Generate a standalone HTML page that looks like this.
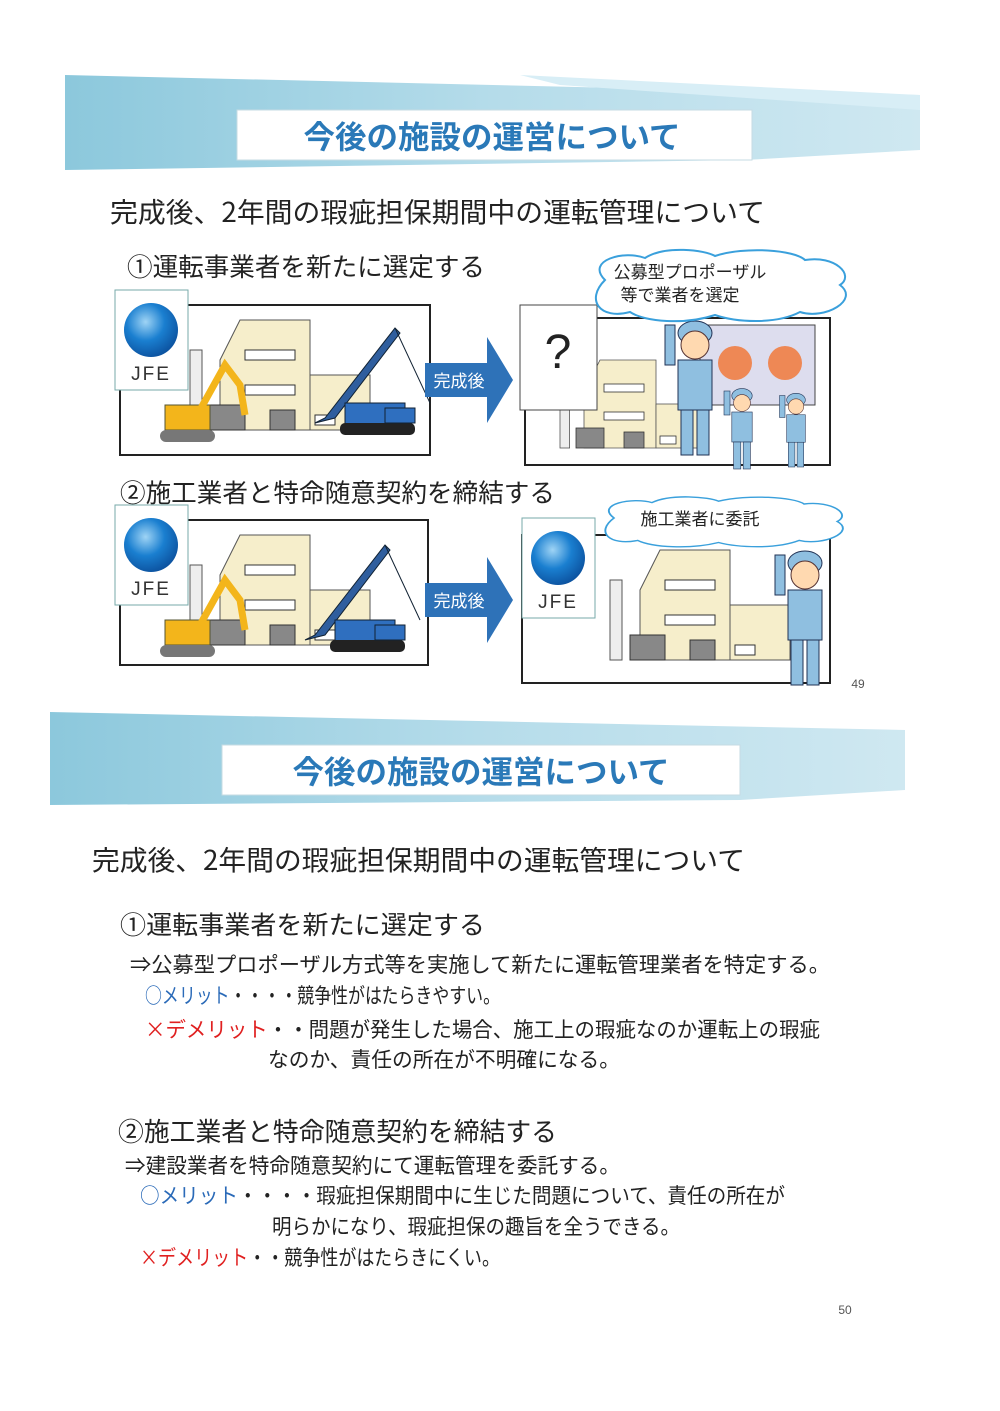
<!DOCTYPE html>
<html><head><meta charset="utf-8"><style>
html,body{margin:0;padding:0;background:#fff}
svg{display:block}
text{font-family:"Noto Sans CJK JP","Liberation Sans",sans-serif}
text.l{font-family:"Liberation Sans",sans-serif}
</style></head><body>
<svg width="1000" height="1411" viewBox="0 0 1000 1411" xmlns="http://www.w3.org/2000/svg">
<defs>
<linearGradient id="bn" x1="0" y1="0" x2="1" y2="0">
<stop offset="0" stop-color="#8cc8dc"/><stop offset="0.5" stop-color="#b5dcea"/><stop offset="1" stop-color="#cfe8f1"/></linearGradient>
<radialGradient id="ball" cx="0.4" cy="0.35" r="0.7"><stop offset="0" stop-color="#9fd4f5"/><stop offset="0.5" stop-color="#1a7fd0"/><stop offset="1" stop-color="#0b4f9c"/></radialGradient>
<g id="bld">
<rect x="0" y="30" width="12" height="80" fill="#eee" stroke="#555"/>
<polygon points="30,40 50,0 120,0 120,110 30,110" fill="#f6eecb" stroke="#555"/>
<rect x="120" y="55" width="60" height="55" fill="#f6eecb" stroke="#555"/>
<rect x="55" y="30" width="50" height="10" fill="#fff" stroke="#333"/>
<rect x="55" y="65" width="50" height="10" fill="#fff" stroke="#333"/>
<rect x="20" y="85" width="35" height="25" fill="#888" stroke="#333"/>
<rect x="80" y="90" width="25" height="20" fill="#888" stroke="#333"/>
<rect x="125" y="95" width="20" height="10" fill="#fff" stroke="#333"/>
</g>
<g id="crane">
<polygon points="0,105 10,100 80,10 85,15 20,100" fill="#2f5e9e" stroke="#123"/>
<line x1="80" y1="10" x2="115" y2="85" stroke="#123"/>
<rect x="30" y="85" width="60" height="22" fill="#2f6fbf" stroke="#123"/>
<rect x="25" y="105" width="75" height="12" rx="5" fill="#222"/>
<rect x="70" y="90" width="30" height="15" fill="#2f6fbf" stroke="#123"/>
</g>
<g id="exc">
<rect x="0" y="40" width="45" height="25" fill="#f3b51b" stroke="#553"/>
<polyline points="35,45 60,0 75,20 80,50" fill="none" stroke="#f3b51b" stroke-width="7"/>
<rect x="-5" y="65" width="55" height="12" rx="6" fill="#777"/>
</g>
<g id="man">
<ellipse cx="20" cy="18" rx="17" ry="12" fill="#8fbfe0" stroke="#235"/>
<ellipse cx="20" cy="30" rx="14" ry="14" fill="#ffd9b0" stroke="#533"/>
<rect x="3" y="45" width="34" height="50" fill="#8fbfe0" stroke="#235"/>
<rect x="6" y="95" width="12" height="45" fill="#8fbfe0" stroke="#235"/>
<rect x="22" y="95" width="12" height="45" fill="#8fbfe0" stroke="#235"/>
<rect x="-10" y="10" width="10" height="40" fill="#8fbfe0" stroke="#235"/>
</g>
<g id="jfe">
<rect x="0" y="0" width="73" height="100" fill="#fff" stroke="#7aa"/>
<circle cx="36" cy="40" r="27" fill="url(#ball)"/>
<text class="l" x="36" y="90" font-size="19" text-anchor="middle" fill="#333" letter-spacing="2">JFE</text>
</g>
<g id="arrow">
<polygon points="0,8 62,8 62,-18 88,25 62,68 62,42 0,42" fill="#2e72b8"/>
<text x="34" y="32" font-size="17" text-anchor="middle" fill="#fff">完成後</text>
</g>
<g id="cloud">
<path d="M20,30 C0,10 40,0 60,8 C80,-5 120,0 130,6 C160,-4 210,0 220,10 C250,5 270,25 255,35 C275,50 240,70 215,62 C190,75 150,72 130,65 C100,75 60,72 45,62 C15,70 0,50 20,30Z" fill="#fff" stroke="#3aa0dc" stroke-width="2"/>
</g>
</defs>

<!-- Banner 1 -->
<polygon points="65,75 920,95 920,150 745,160 65,170" fill="url(#bn)"/>
<polygon points="520,75 920,95 920,110 560,85" fill="#d8eef6"/>
<rect x="237" y="110" width="515" height="50" fill="#fff" stroke="#c6dbe3"/>
<text x="492" y="148" font-size="31.5" font-weight="bold" fill="#2a79b8" text-anchor="middle">今後の施設の運営について</text>

<text x="110" y="222" font-size="27.3" fill="#222" textLength="655" lengthAdjust="spacingAndGlyphs">完成後、2年間の瑕疵担保期間中の運転管理について</text>
<text x="127" y="276" font-size="25.5" fill="#222" textLength="358" lengthAdjust="spacingAndGlyphs">①運転事業者を新たに選定する</text>

<!-- panel 1 -->
<rect x="120" y="305" width="310" height="150" fill="#fff" stroke="#222" stroke-width="2"/>
<use href="#bld" x="190" y="320"/>
<use href="#crane" x="315" y="318"/>
<use href="#exc" x="165" y="365"/>
<use href="#jfe" x="115" y="290"/>
<use href="#arrow" x="425" y="355"/>
<rect x="525" y="318" width="305" height="147" fill="#fff" stroke="#222" stroke-width="2"/>
<use href="#bld" x="560" y="360" transform="translate(560,360) scale(0.8) translate(-560,-360)"/>
<rect x="700" y="325" width="115" height="80" fill="#dde" stroke="#444"/>
<circle cx="735" cy="363" r="17" fill="#e85"/><circle cx="785" cy="363" r="17" fill="#e85"/>
<use href="#man" x="675" y="315"/>
<use href="#man" x="730" y="385" transform="translate(730,385) scale(0.6) translate(-730,-385)"/>
<use href="#man" x="785" y="390" transform="translate(785,390) scale(0.55) translate(-785,-390)"/>
<rect x="520" y="305" width="77" height="105" fill="#fff" stroke="#444"/>
<text class="l" x="558" y="368" font-size="48" text-anchor="middle" fill="#222">?</text>
<use href="#cloud" x="585" y="250"/>
<text x="690" y="278" font-size="17" text-anchor="middle" fill="#222">公募型プロポーザル</text>
<text x="680" y="301" font-size="17" text-anchor="middle" fill="#222">等で業者を選定</text>

<text x="120" y="502" font-size="25.5" fill="#222" textLength="435" lengthAdjust="spacingAndGlyphs">②施工業者と特命随意契約を締結する</text>
<!-- panel 2 -->
<rect x="120" y="520" width="308" height="145" fill="#fff" stroke="#222" stroke-width="2"/>
<use href="#bld" x="190" y="535"/>
<use href="#crane" x="305" y="535"/>
<use href="#exc" x="165" y="580"/>
<use href="#jfe" x="115" y="505"/>
<use href="#arrow" x="425" y="575"/>
<rect x="522" y="535" width="308" height="148" fill="#fff" stroke="#222" stroke-width="2"/>
<use href="#bld" x="610" y="550"/>
<use href="#man" x="785" y="545"/>
<use href="#jfe" x="522" y="518"/>
<use href="#cloud" x="595" y="497" transform="translate(595,497) scale(0.95,0.7) translate(-595,-497)"/>
<text x="700" y="525" font-size="17" text-anchor="middle" fill="#222">施工業者に委託</text>
<text class="l" x="858" y="688" font-size="12" text-anchor="middle" fill="#555">49</text>

<!-- Banner 2 -->
<polygon points="50,712 905,730 905,790 740,800 50,805" fill="url(#bn)"/>
<rect x="222" y="745" width="518" height="50" fill="#fff" stroke="#c6dbe3"/>
<text x="481" y="783" font-size="31.5" font-weight="bold" fill="#2a79b8" text-anchor="middle">今後の施設の運営について</text>

<text x="92" y="870" font-size="27.3" fill="#222" textLength="653" lengthAdjust="spacingAndGlyphs">完成後、2年間の瑕疵担保期間中の運転管理について</text>
<text x="120" y="934" font-size="25.5" fill="#222" textLength="365" lengthAdjust="spacingAndGlyphs">①運転事業者を新たに選定する</text>
<text x="130" y="972" font-size="21.2" fill="#222" textLength="700" lengthAdjust="spacingAndGlyphs">⇒公募型プロポーザル方式等を実施して新たに運転管理業者を特定する。</text>
<text x="145" y="1003" font-size="21.2" textLength="355" lengthAdjust="spacingAndGlyphs"><tspan fill="#2a6ab8">○メリット</tspan><tspan fill="#222">・・・・競争性がはたらきやすい。</tspan></text>
<text x="145" y="1037" font-size="21.2" textLength="675" lengthAdjust="spacingAndGlyphs"><tspan fill="#e02020">×デメリット</tspan><tspan fill="#222">・・問題が発生した場合、施工上の瑕疵なのか運転上の瑕疵</tspan></text>
<text x="268" y="1067" font-size="21.2" fill="#222" textLength="352" lengthAdjust="spacingAndGlyphs">なのか、責任の所在が不明確になる。</text>
<text x="118" y="1141" font-size="26" fill="#222" textLength="439" lengthAdjust="spacingAndGlyphs">②施工業者と特命随意契約を締結する</text>
<text x="125" y="1173" font-size="21.2" fill="#222" textLength="495" lengthAdjust="spacingAndGlyphs">⇒建設業者を特命随意契約にて運転管理を委託する。</text>
<text x="140" y="1203" font-size="21.2" textLength="645" lengthAdjust="spacingAndGlyphs"><tspan fill="#2a6ab8">○メリット</tspan><tspan fill="#222">・・・・瑕疵担保期間中に生じた問題について、責任の所在が</tspan></text>
<text x="272" y="1234" font-size="21.2" fill="#222" textLength="408" lengthAdjust="spacingAndGlyphs">明らかになり、瑕疵担保の趣旨を全うできる。</text>
<text x="140" y="1265" font-size="21.2" textLength="360" lengthAdjust="spacingAndGlyphs"><tspan fill="#e02020">×デメリット</tspan><tspan fill="#222">・・競争性がはたらきにくい。</tspan></text>
<text class="l" x="845" y="1314" font-size="12" text-anchor="middle" fill="#555">50</text>
</svg>
</body></html>
